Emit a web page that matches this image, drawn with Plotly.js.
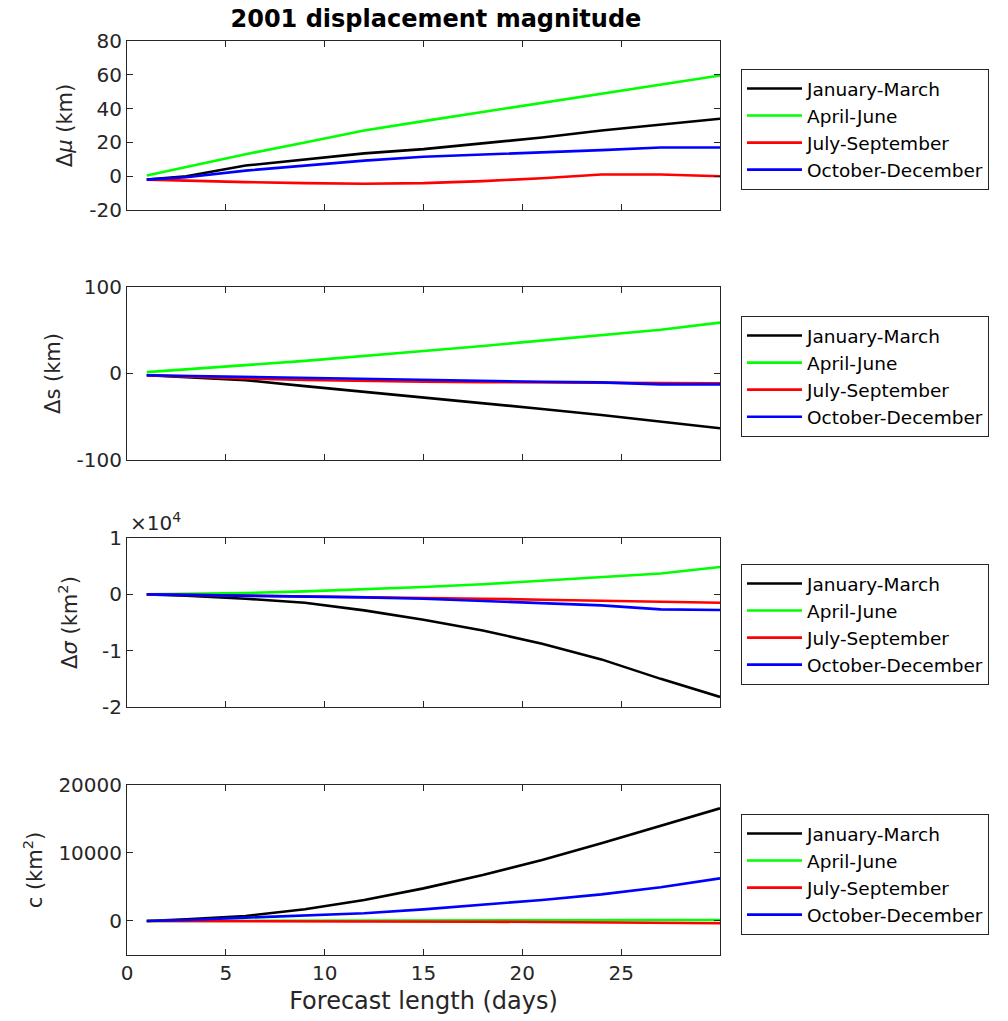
<!DOCTYPE html>
<html>
<head>
<meta charset="utf-8">
<script src="https://cdn.plot.ly/plotly-3.0.1.min.js"></script>
<style>html,body{margin:0;padding:0;background:#fff;}#chart{width:1008px;height:1021px;}</style>
</head>
<body>
<div id="chart"></div>
<script>
// Forecast length (days)
const days = [1, 3, 6, 9, 12, 15, 18, 21, 24, 27, 30];
const seasons = ["January-March", "April-June", "July-September", "October-December"];
const colors = ["#000000", "#00ff00", "#ff0000", "#0000ff"];

// Panel 1: Δμ (km)
const dmuJanMar = [-2, 0, 6.3, 10, 13.5, 16, 19.3, 22.9, 27, 30.3, 34];
const dmuAprJun = [0.4, 5.5, 13, 20, 27, 32.6, 38, 43.5, 49, 54.5, 59.6];
const dmuJulSep = [-2, -2.7, -3.5, -4.1, -4.5, -4.1, -2.9, -1.2, 1, 1, 0];
const dmuOctDec = [-2, -0.6, 3.3, 6.3, 9.2, 11.5, 12.7, 13.9, 15.4, 17, 17];

// Panel 2: Δs (km)
const dsJanMar = [-2, -4.5, -7.7, -14.6, -21, -27.6, -34.5, -41, -48, -55.6, -63.3];
const dsAprJun = [1.5, 5, 9.6, 14.6, 20, 26, 31.8, 38.3, 44.8, 50.6, 58.8];
const dsJulSep = [-2, -3.8, -5.7, -7.5, -8.8, -9.5, -10, -10.4, -10.7, -11.2, -11.5];
const dsOctDec = [-2, -2.8, -3.8, -4.8, -5.7, -7.2, -8.8, -9.6, -10.3, -12.6, -12.6];

// Panel 3: Δσ (km^2)
const dsigJanMar = [0, -250, -770, -1480, -2840, -4500, -6400, -8760, -11540, -15000, -18200];
const dsigAprJun = [0, 80, 240, 530, 890, 1300, 1800, 2400, 3100, 3700, 4850];
const dsigJulSep = [0, -80, -180, -320, -470, -600, -770, -950, -1120, -1360, -1480];
const dsigOctDec = [0, -80, -180, -320, -530, -770, -1120, -1480, -1950, -2660, -2780];

// Panel 4: c (km^2)
const cJanMar = [0, 245, 735, 1715, 3090, 4800, 6760, 8970, 11420, 13970, 16570];
const cAprJun = [0, 20, 40, 60, 80, 100, 110, 120, 130, 140, 150];
const cJulSep = [0, 0, -10, -20, -30, -50, -100, -150, -245, -290, -340];
const cOctDec = [0, 150, 490, 785, 1130, 1715, 2350, 3090, 3920, 4950, 6270];

// Tick labels
const xTicks = [0, 5, 10, 15, 20, 25];
const xTickText = ["0", "5", "10", "15", "20", "25"];
const muTickVals = [-20, 0, 20, 40, 60, 80];
const muTickText = ["-20", "0", "20", "40", "60", "80"];
const sTickVals = [-100, 0, 100];
const sTickText = ["-100", "0", "100"];
const sigTickVals = [-20000, -10000, 0, 10000];
const sigTickText = ["-2", "-1", "0", "1"];
const cTickVals = [0, 10000, 20000];
const cTickText = ["0", "10000", "20000"];

const panels = [
  [dmuJanMar, dmuAprJun, dmuJulSep, dmuOctDec],
  [dsJanMar, dsAprJun, dsJulSep, dsOctDec],
  [dsigJanMar, dsigAprJun, dsigJulSep, dsigOctDec],
  [cJanMar, cAprJun, cJulSep, cOctDec]
];

const traces = [];
panels.forEach((series, i) => {
  series.forEach((ys, j) => {
    traces.push({
      x: days, y: ys, type: "scatter", mode: "lines",
      name: seasons[j],
      line: {color: colors[j], width: 2.6},
      xaxis: i === 0 ? "x" : "x" + (i + 1),
      yaxis: i === 0 ? "y" : "y" + (i + 1),
      legend: i === 0 ? "legend" : "legend" + (i + 1),
      showlegend: true
    });
  });
});

const axisColor = "#262626";
const fontFam = "DejaVu Sans, Verdana, sans-serif";

function xax(showLabels, anchor) {
  return {
    domain: [0, 1], range: [0, 30], anchor: anchor,
    tickmode: "array", tickvals: xTicks, ticktext: xTickText, showticklabels: showLabels,
    ticks: "inside", ticklen: 6, tickwidth: 1, tickcolor: axisColor,
    showline: true, linecolor: axisColor, linewidth: 1, mirror: "ticks",
    showgrid: false, zeroline: false,
    tickfont: {family: fontFam, size: 20, color: axisColor}
  };
}
function yax(domain, range, title, anchor, tv, tt, standoff) {
  return {
    domain: domain, range: range, anchor: anchor,
    tickmode: "array", tickvals: tv, ticktext: tt,
    ticks: "inside", ticklen: 6, tickwidth: 1, tickcolor: axisColor,
    showline: true, linecolor: axisColor, linewidth: 1, mirror: "ticks",
    showgrid: false, zeroline: false,
    tickfont: {family: fontFam, size: 20, color: axisColor},
    title: {text: title, font: {family: fontFam, size: 21, color: axisColor}, standoff: standoff}
  };
}

const doms = [[0.8151, 1], [0.5416, 0.7309], [0.2713, 0.4562], [0, 0.186]];

function leg(yTop) {
  return {
    x: 1.0354, xanchor: "left", y: yTop, yanchor: "top",
    bordercolor: axisColor, borderwidth: 1, bgcolor: "#ffffff",
    font: {family: fontFam, size: 18.5, color: "#000000"},
    tracegroupgap: 0, itemwidth: 55
  };
}

const layout = {
  width: 1008, height: 1021,
  margin: {l: 127, r: 288, t: 41, b: 66},
  paper_bgcolor: "#ffffff", plot_bgcolor: "#ffffff",
  showlegend: true,
  title: {text: "<b>2001 displacement magnitude</b>", x: 0.4325, xanchor: "center", y: 0.982, yanchor: "middle",
          font: {family: fontFam, size: 24, color: "#000000"}},
  xaxis: xax(false, "y"),
  xaxis2: xax(false, "y2"),
  xaxis3: xax(false, "y3"),
  xaxis4: Object.assign(xax(true, "y4"), {
    title: {text: "Forecast length (days)", font: {family: fontFam, size: 24, color: axisColor}, standoff: 8}}),
  yaxis: yax(doms[0], [-20, 80], "Δ<i>μ</i> (km)", "x", muTickVals, muTickText, 10),
  yaxis2: yax(doms[1], [-100, 100], "Δs (km)", "x2", sTickVals, sTickText, 10),
  yaxis3: yax(doms[2], [-20000, 10000], "Δ<i>σ</i> (km<sup>2</sup>)", "x3", sigTickVals, sigTickText, 18),
  yaxis4: yax(doms[3], [-5000, 20000], "c (km<sup>2</sup>)", "x4", cTickVals, cTickText, 10),
  legend: leg(0.9694),
  legend2: leg(0.6991),
  legend3: leg(0.4278),
  legend4: leg(0.1543),
  annotations: [{
    text: "×10<sup>4</sup>", xref: "paper", yref: "paper", x: 0.002, y: doms[2][1] + 0.001,
    xanchor: "left", yanchor: "bottom", showarrow: false,
    font: {family: fontFam, size: 20, color: axisColor}
  }]
};

Plotly.newPlot("chart", traces, layout, {displayModeBar: false, staticPlot: true});
</script>
</body>
</html>
